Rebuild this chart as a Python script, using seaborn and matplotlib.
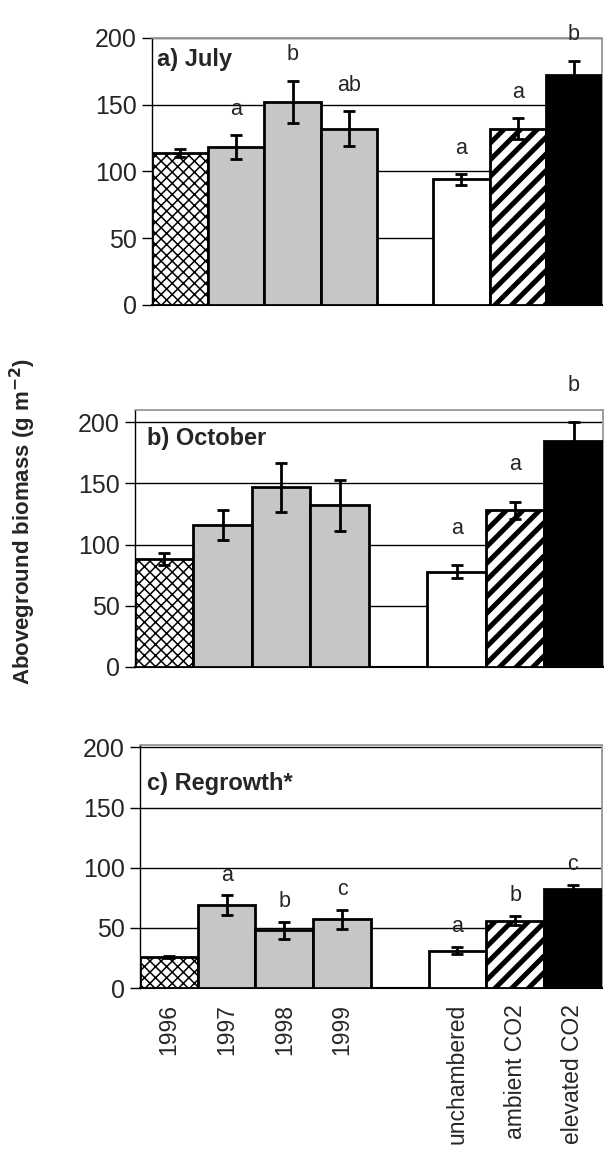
import numpy as np
import pandas as pd
import matplotlib
matplotlib.use("Agg")
import matplotlib.pyplot as plt
import seaborn as sns

sns.set_style("white")
plt.rcParams['font.family'] = ['Liberation Sans', 'DejaVu Sans']
plt.rcParams['hatch.linewidth'] = 1.1

# categories (a blank slot separates the years from the chamber treatments)
categories = ["1996", "1997", "1998", "1999", "unchambered", "ambient CO2", "elevated CO2"]
order = ["1996", "1997", "1998", "1999", " ", "unchambered", "ambient CO2", "elevated CO2"]

july_mean = [114, 118, 152, 132, 94, 132, 172]
july_err = [3, 9, 16, 13, 4, 8, 11]
july_letters = ["", "a", "b", "ab", "a", "a", "b"]

oct_mean = [88, 116, 147, 132, 78, 128, 185]
oct_err = [5, 12, 20, 21, 5, 7, 15]
oct_letters = ["", "", "", "", "a", "a", "b"]

regrowth_mean = [26, 69, 48, 57, 31, 56, 82]
regrowth_err = [1, 8, 7, 8, 3, 4, 4]
regrowth_letters = ["", "a", "b", "c", "a", "b", "c"]

panel_titles = ["a) July", "b) October", "c) Regrowth*"]

# bar styles: (facecolor, hatch, hatch linewidth)
styles = {
    "1996": ("white", "xxx", 1.1),
    "1997": ("#c6c6c6", "", 1.0),
    "1998": ("#c6c6c6", "", 1.0),
    "1999": ("#c6c6c6", "", 1.0),
    "unchambered": ("white", "", 1.0),
    "ambient CO2": ("white", "//", 3.6),
    "elevated CO2": ("black", "", 1.0),
}

panels = [
    (july_mean, july_err, july_letters),
    (oct_mean, oct_err, oct_letters),
    (regrowth_mean, regrowth_err, regrowth_letters),
]

# axes rectangles in figure fractions, one per panel (scanned panels are slightly offset)
rects = [
    [0.249, 0.738, 0.738, 0.2294],
    [0.2213, 0.427, 0.767, 0.2208],
    [0.2295, 0.1512, 0.757, 0.2088],
]
ytops = [200, 210, 202]
title_pos = [(0.012, 0.92), (0.026, 0.89), (0.015, 0.84)]
letter_offsets = [11, 19, 7]

fig = plt.figure(figsize=(6.10, 11.64), dpi=100)

for i, (mean, err, letters) in enumerate(panels):
    ax = fig.add_axes(rects[i])
    df = pd.DataFrame({"group": categories, "biomass": mean})
    sns.barplot(data=df, x="group", y="biomass", order=order, width=1.0,
                color="white", edgecolor="black", linewidth=2, errorbar=None,
                saturation=1, ax=ax)

    for p in ax.patches:
        idx = int(round(p.get_x() + p.get_width() / 2))
        name = order[idx]
        face, hatch, hlw = styles[name]
        p.set_facecolor(face)
        p.set_hatch(hatch)
        if hasattr(p, "set_hatch_linewidth"):
            p.set_hatch_linewidth(hlw)
        p.set_zorder(3)

    pos = [order.index(c) for c in categories]
    ax.errorbar(pos, mean, yerr=err, fmt="none", ecolor="black",
                elinewidth=2, capsize=4.5, capthick=2, zorder=5)

    for x, m, e, lab in zip(pos, mean, err, letters):
        if lab:
            ax.annotate(lab, xy=(x, m + e), xytext=(0, letter_offsets[i]),
                        textcoords="offset points", ha="center", va="bottom",
                        fontsize=15.5, annotation_clip=False)

    ax.text(title_pos[i][0], title_pos[i][1], panel_titles[i], transform=ax.transAxes,
            fontsize=17, fontweight="bold", ha="left", va="center", zorder=6)

    ax.set_xlim(-0.5, 7.5)
    ax.set_ylim(0, ytops[i])
    ax.set_yticks([0, 50, 100, 150, 200])
    ax.set_axisbelow(True)
    ax.yaxis.grid(True, color="black", linewidth=1)
    ax.xaxis.grid(False)
    ax.tick_params(axis="y", left=True, length=7, width=1, direction="out",
                   labelsize=18, pad=4, color="black")
    ax.tick_params(axis="x", bottom=False, labelsize=16.5, pad=8)
    ax.set_xlabel("")
    ax.set_ylabel("")
    if i < 2:
        ax.set_xticklabels([])
    else:
        ax.set_xticks(range(len(order)))
        ax.set_xticklabels(order, rotation=90, va="top", ha="center")

    for side in ["top", "right"]:
        ax.spines[side].set_color("#9a9a9a")
        ax.spines[side].set_linewidth(1.2)
        ax.spines[side].set_linestyle((0, (1, 0.6)))
    ax.spines["left"].set_color("black")
    ax.spines["left"].set_linewidth(1)
    ax.spines["bottom"].set_color("black")
    ax.spines["bottom"].set_linewidth(1.5)

fig.text(0.038, 0.552, "Aboveground biomass (g m$^{\\mathbf{-2}}$)", rotation=90,
         ha="center", va="center", fontsize=16, fontweight="bold")

fig.savefig("out.png", dpi=100)
